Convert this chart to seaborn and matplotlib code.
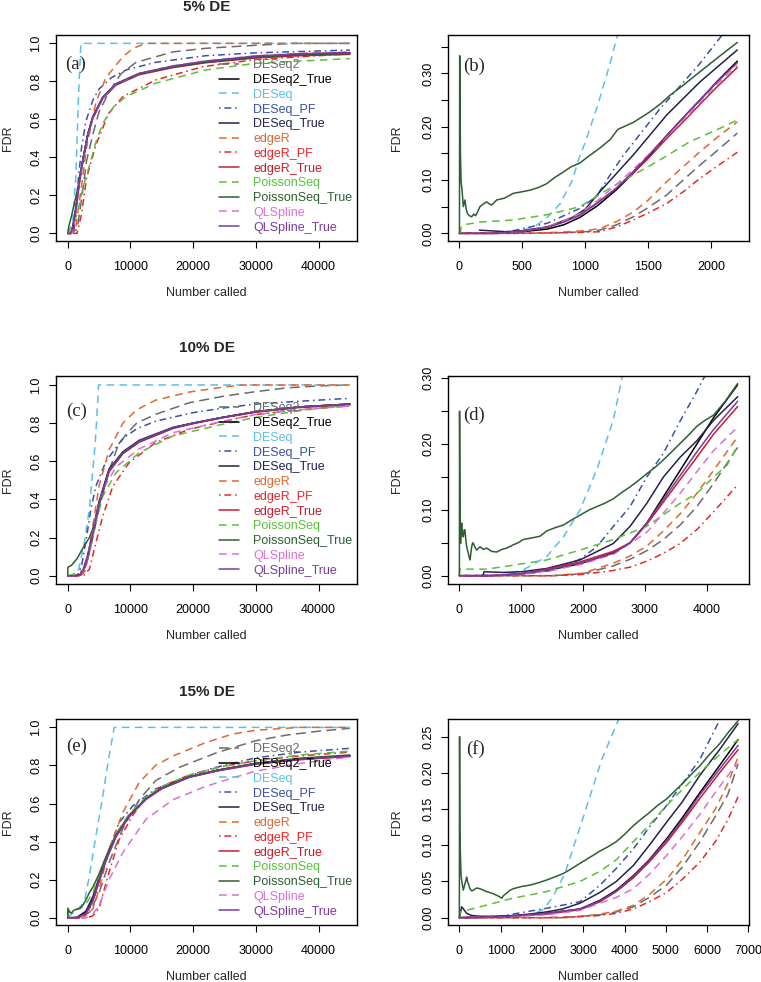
import numpy as np
import matplotlib
matplotlib.use("Agg")
import matplotlib.pyplot as plt
import seaborn as sns

sns.set_style("ticks")
plt.rcParams["font.family"] = ["Liberation Sans", "DejaVu Sans"]
plt.rcParams["axes.linewidth"] = 1.0
plt.rcParams["axes.edgecolor"] = "black"

# ---------------------------------------------------------------
# series, colours and line types
# ---------------------------------------------------------------
series_names = ["DESeq2", "DESeq2_True", "DESeq", "DESeq_PF", "DESeq_True",
                "edgeR", "edgeR_PF", "edgeR_True", "PoissonSeq",
                "PoissonSeq_True", "QLSpline", "QLSpline_True"]
series_colors = ["#6b6b6b", "#000000", "#5bbfea", "#3a4fa8", "#22224f",
                 "#e0692e", "#e8262a", "#cc1b2b", "#5bbf3a",
                 "#2e5e32", "#da70d6", "#7a3aa0"]
DASH = (0, (5, 3.5))
LONGDASH = (0, (6.5, 3.5))
DOTDASH = (0, (1, 2.5, 4.5, 2.5))
series_styles = [LONGDASH, "-", DASH, DOTDASH, "-", DASH, DOTDASH, "-",
                 DASH, "-", DASH, "-"]

# ---------------------------------------------------------------
# FDR curves: (number called, FDR)
# ---------------------------------------------------------------
fdr_5_full = {
    "DESeq2": [(0, 0), (1500, 0.02), (2300, 0.2), (3000, 0.38), (4000, 0.52), (5000, 0.64), (6600, 0.745), (8500, 0.84), (10900, 0.9), (16750, 0.955), (22000, 0.974), (30000, 0.99), (36000, 1.0), (45000, 1.0)],
    "DESeq2_True": [(0, 0), (500, 0.0), (790, 0.026), (1320, 0.13), (1850, 0.27), (2380, 0.377), (3180, 0.517), (4000, 0.61), (5600, 0.715), (7700, 0.785), (11400, 0.84), (16700, 0.877), (22000, 0.903), (30000, 0.93), (37000, 0.942), (45000, 0.95)],
    "DESeq": [(0, 0), (800, 0.05), (1300, 0.3), (1700, 0.7), (2100, 1.0), (45000, 1.0)],
    "DESeq_PF": [(0, 0), (1000, 0.02), (1600, 0.25), (2200, 0.45), (2900, 0.59), (4000, 0.7), (5000, 0.76), (7000, 0.82), (9300, 0.86), (14000, 0.9), (22000, 0.935), (30000, 0.95), (45000, 0.965)],
    "DESeq_True": [(0, 0), (500, 0.0), (790, 0.03), (1320, 0.14), (1850, 0.28), (2380, 0.385), (3180, 0.52), (4000, 0.615), (5600, 0.718), (7700, 0.787), (11400, 0.841), (16700, 0.878), (22000, 0.904), (30000, 0.931), (37000, 0.943), (45000, 0.95)],
    "edgeR": [(0, 0), (1200, 0.01), (2000, 0.2), (3000, 0.45), (4500, 0.69), (6100, 0.82), (8800, 0.93), (10500, 0.975), (12500, 1.0), (45000, 1.0)],
    "edgeR_PF": [(0, 0), (1500, 0.0), (2200, 0.1), (3000, 0.29), (4500, 0.465), (6500, 0.63), (8800, 0.72), (14000, 0.807), (21500, 0.877), (30000, 0.915), (45000, 0.945)],
    "edgeR_True": [(0, 0), (600, 0.0), (900, 0.02), (1320, 0.12), (1850, 0.26), (2380, 0.37), (3180, 0.51), (4000, 0.605), (5600, 0.71), (7700, 0.78), (11400, 0.835), (16700, 0.872), (22000, 0.898), (30000, 0.923), (37000, 0.935), (45000, 0.942)],
    "PoissonSeq": [(0, 0), (500, 0.03), (1500, 0.1), (2500, 0.25), (3500, 0.36), (4500, 0.48), (5600, 0.58), (7300, 0.665), (9300, 0.72), (14000, 0.79), (22000, 0.86), (30000, 0.895), (45000, 0.92)],
    "PoissonSeq_True": [(0, 0), (200, 0.04), (600, 0.09), (1000, 0.15), (1500, 0.22), (2100, 0.33), (2380, 0.375), (3180, 0.515), (4000, 0.61), (5600, 0.714), (7700, 0.784), (11400, 0.838), (16700, 0.875), (22000, 0.9), (30000, 0.927), (37000, 0.94), (45000, 0.946)],
    "QLSpline": [(0, 0), (600, 0.0), (900, 0.02), (1320, 0.12), (1850, 0.26), (2380, 0.37), (3180, 0.51), (4000, 0.607), (5600, 0.713), (7700, 0.785), (11400, 0.842), (16700, 0.882), (22000, 0.908), (30000, 0.935), (37000, 0.948), (45000, 0.955)],
    "QLSpline_True": [(0, 0), (500, 0.0), (790, 0.025), (1320, 0.13), (1850, 0.27), (2380, 0.378), (3180, 0.518), (4000, 0.612), (5600, 0.717), (7700, 0.787), (11400, 0.842), (16700, 0.88), (22000, 0.906), (30000, 0.933), (37000, 0.945), (45000, 0.952)],
}

fdr_5_top = {
    "DESeq2": [(0, 0), (500, 0.0), (800, 0.001), (1000, 0.003), (1118, 0.006), (1250, 0.016), (1383, 0.031), (1500, 0.048), (1649, 0.072), (1780, 0.1), (1913, 0.128), (2050, 0.155), (2210, 0.188)],
    "DESeq2_True": [(0, 0), (300, 0.0), (500, 0.003), (700, 0.008), (830, 0.016), (960, 0.03), (1100, 0.052), (1250, 0.082), (1383, 0.113), (1500, 0.143), (1649, 0.183), (1800, 0.222), (1913, 0.25), (2050, 0.285), (2210, 0.323)],
    "DESeq": [(0, 0), (400, 0.0), (500, 0.005), (600, 0.013), (700, 0.03), (800, 0.055), (900, 0.1), (950, 0.14), (1000, 0.17), (1100, 0.24), (1200, 0.32), (1300, 0.41)],
    "DESeq_PF": [(0, 0), (300, 0.0), (430, 0.005), (700, 0.019), (960, 0.047), (1090, 0.069), (1200, 0.11), (1300, 0.145), (1400, 0.175), (1500, 0.205), (1600, 0.235), (1750, 0.275), (1900, 0.315), (2000, 0.345), (2090, 0.372), (2150, 0.39)],
    "DESeq_True": [(160, 0.006), (370, 0.003), (500, 0.005), (700, 0.012), (900, 0.03), (1000, 0.045), (1118, 0.078), (1383, 0.147), (1649, 0.222), (1913, 0.284), (2210, 0.344)],
    "edgeR": [(0, 0), (500, 0.0), (800, 0.002), (1000, 0.005), (1118, 0.009), (1250, 0.022), (1383, 0.04), (1500, 0.062), (1649, 0.097), (1780, 0.125), (1913, 0.153), (2050, 0.18), (2210, 0.209)],
    "edgeR_PF": [(0, 0), (500, 0.0), (800, 0.001), (1000, 0.002), (1118, 0.003), (1250, 0.012), (1383, 0.025), (1500, 0.038), (1649, 0.056), (1780, 0.078), (1913, 0.103), (2050, 0.126), (2210, 0.152)],
    "edgeR_True": [(0, 0), (300, 0.0), (500, 0.004), (700, 0.012), (830, 0.022), (960, 0.035), (1100, 0.058), (1250, 0.085), (1383, 0.113), (1500, 0.14), (1649, 0.178), (1800, 0.214), (1913, 0.242), (2050, 0.275), (2210, 0.311)],
    "PoissonSeq": [(1, 0.0), (8, 0.0), (15, 0.012), (60, 0.017), (160, 0.021), (430, 0.025), (700, 0.035), (960, 0.05), (1171, 0.081), (1357, 0.106), (1569, 0.134), (1834, 0.172), (2046, 0.194), (2210, 0.2125)],
    "PoissonSeq_True": [(1, 0.0), (3, 0.333), (9, 0.15), (14, 0.097), (22, 0.08), (32, 0.05), (45, 0.0625), (55, 0.045), (64, 0.0375), (80, 0.033), (98, 0.031), (115, 0.036), (130, 0.033), (145, 0.04), (164, 0.05), (190, 0.055), (217, 0.059), (240, 0.055), (257, 0.053), (297, 0.0625), (360, 0.066), (429, 0.075), (500, 0.078), (562, 0.081), (630, 0.086), (694, 0.093), (760, 0.105), (827, 0.115), (890, 0.125), (959, 0.132), (1030, 0.145), (1118, 0.16), (1200, 0.176), (1260, 0.195), (1383, 0.208), (1516, 0.228), (1600, 0.243), (1675, 0.259), (1781, 0.278), (1913, 0.303), (2046, 0.328), (2210, 0.358)],
    "QLSpline": [(0, 0), (300, 0.0), (500, 0.004), (700, 0.012), (830, 0.023), (960, 0.037), (1100, 0.062), (1250, 0.092), (1383, 0.12), (1500, 0.146), (1649, 0.182), (1800, 0.218), (1913, 0.245), (2050, 0.28), (2210, 0.315)],
    "QLSpline_True": [(0, 0), (300, 0.0), (500, 0.004), (700, 0.011), (830, 0.021), (960, 0.034), (1100, 0.057), (1250, 0.085), (1383, 0.116), (1500, 0.145), (1649, 0.184), (1800, 0.222), (1913, 0.25), (2050, 0.284), (2210, 0.32)],
}

fdr_10_full = {
    "DESeq2": [(0, 0), (2000, 0.0), (3000, 0.06), (4000, 0.2), (5000, 0.35), (6500, 0.54), (8000, 0.68), (9300, 0.741), (11000, 0.8), (14000, 0.846), (19400, 0.907), (25000, 0.942), (30000, 0.965), (35000, 0.985), (40000, 0.995), (45000, 1.0)],
    "DESeq2_True": [(0, 0), (1000, 0.0), (2000, 0.005), (2500, 0.03), (3200, 0.1), (4000, 0.225), (5000, 0.38), (6600, 0.555), (8800, 0.645), (11400, 0.706), (16800, 0.776), (20000, 0.8), (24700, 0.83), (30000, 0.86), (37000, 0.885), (45000, 0.9)],
    "DESeq": [(0, 0), (1000, 0.0), (1750, 0.034), (2650, 0.173), (3450, 0.348), (4400, 0.698), (4940, 1.0), (45000, 1.0)],
    "DESeq_PF": [(0, 0), (1500, 0.0), (2200, 0.05), (3000, 0.2), (3700, 0.35), (4500, 0.47), (6100, 0.6), (8800, 0.72), (11000, 0.77), (14000, 0.81), (20000, 0.855), (25000, 0.88), (30000, 0.9), (37000, 0.915), (45000, 0.93)],
    "DESeq_True": [(0, 0), (1000, 0.0), (2000, 0.008), (2500, 0.035), (3200, 0.11), (4000, 0.235), (5000, 0.39), (6600, 0.56), (8800, 0.65), (11400, 0.71), (16800, 0.778), (20000, 0.8), (24700, 0.83), (30000, 0.86), (37000, 0.885), (45000, 0.9)],
    "edgeR": [(0, 0), (2000, 0.0), (2700, 0.02), (3200, 0.086), (4000, 0.26), (5000, 0.47), (6600, 0.66), (8800, 0.8), (11000, 0.87), (14000, 0.92), (19400, 0.963), (25000, 0.99), (28000, 1.0), (45000, 1.0)],
    "edgeR_PF": [(0, 0), (2500, 0.0), (3450, 0.034), (4500, 0.173), (5600, 0.313), (7200, 0.47), (9800, 0.593), (14000, 0.698), (19400, 0.768), (25000, 0.81), (30000, 0.845), (37000, 0.87), (45000, 0.89)],
    "edgeR_True": [(0, 0), (1000, 0.0), (2000, 0.004), (2500, 0.025), (3200, 0.09), (4000, 0.215), (5000, 0.37), (6600, 0.545), (8800, 0.64), (11400, 0.7), (16800, 0.772), (20000, 0.797), (24700, 0.828), (30000, 0.857), (37000, 0.882), (45000, 0.895)],
    "PoissonSeq": [(0, 0), (1000, 0.01), (2500, 0.03), (3500, 0.12), (4500, 0.28), (5600, 0.418), (7700, 0.54), (11400, 0.645), (16800, 0.733), (24700, 0.794), (30000, 0.83), (37000, 0.865), (45000, 0.895)],
    "PoissonSeq_True": [(1, 0.0), (30, 0.045), (600, 0.055), (1500, 0.09), (2500, 0.15), (3450, 0.2), (4000, 0.245), (5000, 0.375), (6600, 0.552), (8800, 0.643), (11400, 0.704), (16800, 0.775), (20000, 0.8), (24700, 0.83), (30000, 0.86), (37000, 0.885), (45000, 0.9)],
    "QLSpline": [(0, 0), (1500, 0.0), (2500, 0.02), (3500, 0.15), (4500, 0.31), (5600, 0.45), (7700, 0.57), (11400, 0.665), (16800, 0.75), (24700, 0.81), (30000, 0.845), (37000, 0.87), (45000, 0.89)],
    "QLSpline_True": [(0, 0), (1000, 0.0), (2000, 0.005), (2500, 0.03), (3200, 0.1), (4000, 0.22), (5000, 0.375), (6600, 0.553), (8800, 0.645), (11400, 0.706), (16800, 0.776), (20000, 0.8), (24700, 0.83), (30000, 0.86), (37000, 0.885), (45000, 0.9)],
}

fdr_10_top = {
    "DESeq2": [(0, 0), (1500, 0.0), (2000, 0.003), (2491, 0.015), (2761, 0.025), (3031, 0.038), (3300, 0.055), (3570, 0.077), (3840, 0.105), (4110, 0.14), (4500, 0.195)],
    "DESeq2_True": [(0, 0), (500, 0.0), (1000, 0.003), (1413, 0.008), (1952, 0.018), (2491, 0.035), (2761, 0.05), (3031, 0.08), (3300, 0.12), (3570, 0.16), (3840, 0.2), (4110, 0.24), (4500, 0.29)],
    "DESeq": [(0, 0), (600, 0.0), (800, 0.003), (1035, 0.009), (1413, 0.029), (1683, 0.059), (1952, 0.1), (2222, 0.161), (2491, 0.237), (2640, 0.305)],
    "DESeq_PF": [(0, 0), (1000, 0.002), (1500, 0.008), (1952, 0.025), (2222, 0.044), (2491, 0.075), (2761, 0.105), (3031, 0.15), (3300, 0.186), (3570, 0.235), (3840, 0.28), (3950, 0.3), (4050, 0.315)],
    "DESeq_True": [(380, 0.0), (400, 0.006), (700, 0.005), (1000, 0.006), (1413, 0.011), (1952, 0.024), (2491, 0.049), (2761, 0.075), (3031, 0.11), (3300, 0.15), (3570, 0.18), (3840, 0.205), (4110, 0.236), (4500, 0.272)],
    "edgeR": [(0, 0), (1500, 0.0), (2000, 0.004), (2491, 0.019), (2761, 0.03), (3031, 0.045), (3300, 0.068), (3570, 0.094), (3840, 0.125), (4110, 0.16), (4500, 0.211)],
    "edgeR_PF": [(0, 0), (1500, 0.0), (2000, 0.002), (2491, 0.008), (2761, 0.013), (3031, 0.022), (3300, 0.034), (3570, 0.049), (3840, 0.07), (4110, 0.097), (4500, 0.138)],
    "edgeR_True": [(0, 0), (500, 0.0), (1000, 0.003), (1413, 0.01), (1952, 0.021), (2491, 0.037), (2761, 0.05), (3031, 0.078), (3300, 0.112), (3570, 0.146), (3840, 0.18), (4110, 0.215), (4500, 0.257)],
    "PoissonSeq": [(1, 0.0), (8, 0.01), (440, 0.01), (874, 0.016), (1413, 0.024), (1952, 0.039), (2491, 0.055), (3031, 0.075), (3570, 0.11), (3840, 0.125), (4110, 0.15), (4330, 0.168), (4500, 0.198)],
    "PoissonSeq_True": [(1, 0.0), (4, 0.25), (10, 0.12), (20, 0.049), (30, 0.07), (38, 0.08), (50, 0.065), (65, 0.059), (80, 0.07), (92, 0.069), (105, 0.055), (119, 0.044), (135, 0.038), (146, 0.034), (160, 0.028), (173, 0.024), (188, 0.035), (200, 0.044), (215, 0.05), (227, 0.049), (255, 0.043), (280, 0.039), (334, 0.044), (390, 0.04), (442, 0.042), (520, 0.037), (604, 0.036), (690, 0.04), (766, 0.042), (874, 0.047), (950, 0.05), (1035, 0.055), (1150, 0.057), (1305, 0.06), (1413, 0.068), (1550, 0.073), (1683, 0.077), (1820, 0.085), (1952, 0.092), (2100, 0.1), (2222, 0.105), (2350, 0.11), (2491, 0.117), (2620, 0.126), (2761, 0.135), (2900, 0.145), (3031, 0.155), (3170, 0.165), (3300, 0.176), (3430, 0.188), (3570, 0.201), (3700, 0.213), (3840, 0.227), (3970, 0.236), (4110, 0.244), (4300, 0.265), (4500, 0.292)],
    "QLSpline": [(0, 0), (1000, 0.002), (1500, 0.008), (2000, 0.018), (2500, 0.033), (3031, 0.066), (3300, 0.095), (3570, 0.125), (3840, 0.158), (4110, 0.19), (4500, 0.226)],
    "QLSpline_True": [(0, 0), (500, 0.0), (1000, 0.003), (1413, 0.009), (1952, 0.019), (2491, 0.034), (2761, 0.05), (3031, 0.08), (3300, 0.116), (3570, 0.152), (3840, 0.188), (4110, 0.222), (4500, 0.265)],
}

fdr_15_full = {
    "DESeq2": [(0, 0), (2000, 0.0), (3500, 0.03), (5000, 0.13), (6600, 0.29), (8800, 0.47), (11400, 0.62), (14000, 0.72), (17800, 0.79), (23600, 0.865), (27000, 0.9), (30000, 0.93), (35000, 0.96), (40000, 0.98), (45000, 0.995)],
    "DESeq2_True": [(0, 0), (1500, 0.0), (2900, 0.028), (4000, 0.098), (5000, 0.2), (6100, 0.305), (7700, 0.43), (9800, 0.535), (12500, 0.625), (15000, 0.68), (19400, 0.74), (24000, 0.775), (30000, 0.81), (37000, 0.835), (45000, 0.85)],
    "DESeq": [(0, 0), (1000, 0.03), (2000, 0.06), (2650, 0.081), (3450, 0.22), (4500, 0.43), (5600, 0.64), (6600, 0.85), (7430, 1.0), (45000, 1.0)],
    "DESeq_PF": [(0, 0), (2000, 0.0), (3500, 0.05), (4500, 0.133), (5600, 0.256), (6600, 0.36), (8200, 0.5), (10400, 0.588), (14000, 0.676), (19400, 0.746), (23600, 0.79), (30000, 0.84), (37000, 0.87), (45000, 0.89)],
    "DESeq_True": [(0, 0), (1500, 0.003), (2900, 0.035), (4000, 0.11), (5000, 0.21), (6100, 0.315), (7700, 0.435), (9800, 0.538), (12500, 0.627), (15000, 0.682), (19400, 0.741), (24000, 0.776), (30000, 0.81), (37000, 0.835), (45000, 0.85)],
    "edgeR": [(0, 0), (2500, 0.0), (4000, 0.045), (5000, 0.15), (6600, 0.36), (8800, 0.554), (11400, 0.71), (14000, 0.8), (16800, 0.85), (22000, 0.92), (26300, 0.965), (30000, 0.985), (37000, 1.0), (45000, 1.0)],
    "edgeR_PF": [(0, 0), (3000, 0.0), (4000, 0.01), (5000, 0.05), (6600, 0.24), (8200, 0.41), (10400, 0.54), (12500, 0.63), (15000, 0.69), (19400, 0.75), (24000, 0.79), (30000, 0.825), (37000, 0.85), (45000, 0.87)],
    "edgeR_True": [(0, 0), (1500, 0.0), (2900, 0.02), (4000, 0.085), (5000, 0.19), (6100, 0.3), (7700, 0.425), (9800, 0.532), (12500, 0.622), (15000, 0.678), (19400, 0.738), (24000, 0.772), (30000, 0.806), (37000, 0.83), (45000, 0.848)],
    "PoissonSeq": [(0, 0), (200, 0.03), (1000, 0.04), (2000, 0.05), (2900, 0.072), (4000, 0.13), (5000, 0.22), (6100, 0.32), (7700, 0.44), (9800, 0.545), (12500, 0.635), (15000, 0.69), (19400, 0.75), (24000, 0.79), (30000, 0.825), (37000, 0.855), (45000, 0.875)],
    "PoissonSeq_True": [(1, 0.0), (30, 0.05), (300, 0.03), (600, 0.025), (1000, 0.04), (1500, 0.045), (2000, 0.05), (2500, 0.07), (3000, 0.1), (3500, 0.135), (4000, 0.16), (5000, 0.23), (6100, 0.32), (7700, 0.435), (9800, 0.537), (12500, 0.626), (15000, 0.681), (19400, 0.741), (24000, 0.776), (30000, 0.812), (37000, 0.838), (45000, 0.855)],
    "QLSpline": [(0, 0), (3000, 0.0), (4000, 0.02), (5000, 0.063), (6600, 0.2), (8800, 0.343), (12500, 0.518), (16800, 0.62), (22000, 0.69), (26300, 0.735), (30000, 0.77), (37000, 0.81), (45000, 0.845)],
    "QLSpline_True": [(0, 0), (1500, 0.0), (2900, 0.022), (4000, 0.09), (5000, 0.195), (6100, 0.3), (7700, 0.428), (9800, 0.533), (12500, 0.623), (15000, 0.678), (19400, 0.738), (24000, 0.773), (30000, 0.808), (37000, 0.832), (45000, 0.848)],
}

fdr_15_top = {
    "DESeq2": [(0, 0), (2500, 0.0), (3407, 0.004), (3800, 0.008), (4213, 0.015), (4600, 0.028), (5020, 0.045), (5400, 0.07), (5828, 0.105), (6200, 0.14), (6500, 0.17), (6750, 0.212)],
    "DESeq2_True": [(0, 0), (1000, 0.001), (2114, 0.006), (2921, 0.012), (3407, 0.024), (3800, 0.038), (4213, 0.058), (4600, 0.08), (5020, 0.109), (5400, 0.138), (5828, 0.173), (6300, 0.21), (6750, 0.246)],
    "DESeq": [(0, 0), (1000, 0.0), (1500, 0.002), (1800, 0.005), (2050, 0.012), (2276, 0.03), (2550, 0.06), (3002, 0.139), (3446, 0.218), (3850, 0.273), (3950, 0.29)],
    "DESeq_PF": [(0, 0), (1000, 0.002), (2114, 0.013), (2921, 0.022), (3407, 0.045), (3800, 0.068), (4213, 0.095), (4600, 0.125), (5020, 0.155), (5400, 0.185), (5828, 0.219), (6312, 0.274), (6400, 0.285)],
    "DESeq_True": [(1, 0.0), (56, 0.015), (100, 0.012), (177, 0.006), (300, 0.003), (500, 0.002), (800, 0.002), (1307, 0.003), (1700, 0.005), (2114, 0.008), (2500, 0.012), (2921, 0.02), (3407, 0.035), (3800, 0.05), (4213, 0.072), (4600, 0.1), (5020, 0.132), (5400, 0.16), (5828, 0.197), (6300, 0.232), (6750, 0.268)],
    "edgeR": [(0, 0), (2000, 0.0), (3000, 0.002), (3407, 0.005), (3800, 0.009), (4213, 0.017), (4600, 0.032), (5020, 0.053), (5400, 0.08), (5828, 0.118), (6200, 0.15), (6500, 0.185), (6750, 0.222)],
    "edgeR_PF": [(0, 0), (2500, 0.0), (3407, 0.003), (3800, 0.006), (4213, 0.012), (4600, 0.022), (5020, 0.035), (5400, 0.053), (5828, 0.077), (6200, 0.105), (6500, 0.135), (6750, 0.167)],
    "edgeR_True": [(0, 0), (1000, 0.001), (2114, 0.005), (2921, 0.011), (3407, 0.022), (3800, 0.036), (4213, 0.055), (4600, 0.077), (5020, 0.104), (5400, 0.132), (5828, 0.165), (6300, 0.2), (6750, 0.232)],
    "PoissonSeq": [(1, 0.0), (20, 0.008), (500, 0.015), (1307, 0.027), (2114, 0.036), (2921, 0.05), (3407, 0.064), (3800, 0.08), (4213, 0.105), (4600, 0.128), (5020, 0.155), (5400, 0.177), (5828, 0.201), (6300, 0.225), (6750, 0.246)],
    "PoissonSeq_True": [(1, 0.0), (6, 0.25), (14, 0.12), (24, 0.094), (40, 0.06), (56, 0.052), (75, 0.045), (97, 0.038), (120, 0.043), (137, 0.047), (160, 0.052), (177, 0.056), (200, 0.05), (218, 0.047), (240, 0.043), (258, 0.04), (300, 0.037), (339, 0.038), (420, 0.041), (500, 0.04), (580, 0.038), (662, 0.036), (780, 0.034), (904, 0.031), (970, 0.029), (1025, 0.027), (1080, 0.031), (1146, 0.034), (1230, 0.038), (1307, 0.04), (1500, 0.043), (1710, 0.045), (1900, 0.048), (2114, 0.052), (2300, 0.056), (2517, 0.061), (2700, 0.067), (2921, 0.075), (3150, 0.083), (3407, 0.092), (3600, 0.098), (3800, 0.105), (4000, 0.115), (4213, 0.127), (4400, 0.136), (4600, 0.145), (4800, 0.155), (5020, 0.164), (5200, 0.174), (5400, 0.185), (5600, 0.197), (5828, 0.21), (6050, 0.225), (6300, 0.24), (6500, 0.255), (6750, 0.272)],
    "QLSpline": [(0, 0), (1000, 0.001), (2114, 0.004), (2921, 0.01), (3407, 0.02), (3800, 0.028), (4213, 0.04), (4600, 0.06), (5020, 0.086), (5400, 0.112), (5828, 0.143), (6200, 0.173), (6615, 0.205), (6750, 0.213)],
    "QLSpline_True": [(0, 0), (1000, 0.001), (2114, 0.006), (2921, 0.012), (3407, 0.023), (3800, 0.037), (4213, 0.057), (4600, 0.079), (5020, 0.107), (5400, 0.135), (5828, 0.17), (6300, 0.205), (6750, 0.238)],
}

# axis ticks and labels
full_xticks = [0, 10000, 20000, 30000, 40000]
full_yticks = [0.0, 0.2, 0.4, 0.6, 0.8, 1.0]
full_ylabels = ["0.0", "0.2", "0.4", "0.6", "0.8", "1.0"]
top5_xticks = [0, 500, 1000, 1500, 2000]
top5_yticks = [0.0, 0.05, 0.10, 0.15, 0.20, 0.25, 0.30, 0.35]
top5_ylabels = ["0.00", "", "0.10", "", "0.20", "", "0.30", ""]
top10_xticks = [0, 1000, 2000, 3000, 4000]
top10_yticks = [0.0, 0.05, 0.10, 0.15, 0.20, 0.25, 0.30]
top10_ylabels = ["0.00", "", "0.10", "", "0.20", "", "0.30"]
top15_xticks = [0, 1000, 2000, 3000, 4000, 5000, 6000, 7000]
top15_yticks = [0.0, 0.05, 0.10, 0.15, 0.20, 0.25]
top15_ylabels = ["0.00", "0.05", "0.10", "0.15", "0.20", "0.25"]

titles = ["5% DE", "10% DE", "15% DE"]
letters = ["(a)", "(b)", "(c)", "(d)", "(e)", "(f)"]

FS = 9.0

# ---------------------------------------------------------------
# layout (pixel boxes of the 6 panels)
# ---------------------------------------------------------------
W, H = 761, 982
fig = plt.figure(figsize=(W / 100, H / 100), dpi=100)


def add_px_axes(left, top, right, bottom):
    return fig.add_axes([left / W, 1 - bottom / H, (right - left) / W, (bottom - top) / H])


panels = [
    (fdr_5_full, (56, 35, 357, 241), (-1866, 46140), (-0.040, 1.044), full_xticks, full_yticks, full_ylabels, (0.031, 0.859), True),
    (fdr_5_top, (448, 35, 749, 241), (-90, 2303), (-0.0144, 0.372), top5_xticks, top5_yticks, top5_ylabels, (0.049, 0.846), False),
    (fdr_10_full, (56, 376, 357, 584), (-1866, 46140), (-0.043, 1.047), full_xticks, full_yticks, full_ylabels, (0.033, 0.832), True),
    (fdr_10_top, (448, 376, 749, 584), (-183, 4684), (-0.0126, 0.3035), top10_xticks, top10_yticks, top10_ylabels, (0.049, 0.8125), False),
    (fdr_15_full, (56, 719, 357, 925), (-1866, 46140), (-0.038, 1.044), full_xticks, full_yticks, full_ylabels, (0.033, 0.866), True),
    (fdr_15_top, (448, 719, 749, 925), (-274, 7014), (-0.0101, 0.2744), top15_xticks, top15_yticks, top15_ylabels, (0.06, 0.853), False),
]

for i, (data, box, xlim, ylim, xt, yt, ytl, letter_pos, with_legend) in enumerate(panels):
    ax = add_px_axes(*box)
    for name, color, ls in zip(series_names, series_colors, series_styles):
        pts = np.array(data[name], dtype=float)
        sns.lineplot(x=pts[:, 0], y=pts[:, 1], ax=ax, color=color, linestyle=ls,
                     linewidth=1.1, estimator=None, sort=False,
                     label=name if with_legend else None)
    ax.set_xlim(*xlim)
    ax.set_ylim(*ylim)
    ax.set_xticks(xt)
    ax.set_xticklabels([str(v) for v in xt])
    ax.set_yticks(yt)
    ax.set_yticklabels(ytl, rotation=90, va="center")
    ax.tick_params(axis="both", direction="out", length=5, width=0.8,
                   labelsize=FS, colors="black")
    ax.tick_params(axis="x", pad=9.5)
    ax.tick_params(axis="y", pad=5)
    for s in ax.spines.values():
        s.set_visible(True)
        s.set_linewidth(1.0)
    ax.text(letter_pos[0], letter_pos[1], letters[i], transform=ax.transAxes,
            ha="left", va="center", fontsize=13.5, family=["Liberation Serif", "DejaVu Serif"])
    if with_legend:
        leg = ax.legend(loc="lower left", bbox_to_anchor=(0.5425, 0.036),
                        frameon=False, fontsize=FS, handlelength=1.55,
                        handletextpad=1.15, labelspacing=0.22, borderpad=0,
                        borderaxespad=0)
        for txt, line in zip(leg.get_texts(), leg.get_lines()):
            txt.set_color(line.get_color())
    elif ax.get_legend() is not None:
        ax.get_legend().remove()

    # axis titles placed like the R layout
    cx = (box[0] + box[2]) / 2
    cy = (box[1] + box[3]) / 2
    fig.text(cx / W, 1 - (box[3] + 52) / H, "Number called", ha="center", va="center", fontsize=FS)
    fdr_x = 8 if box[0] < 200 else 397
    fig.text(fdr_x / W, 1 - cy / H, "FDR", ha="center", va="center", rotation=90, fontsize=FS)

for title, y in zip(titles, [7, 348, 692]):
    fig.text(206.5 / W, 1 - y / H, title, ha="center", va="center", fontsize=11, weight="bold")

fig.savefig("out.png", dpi=100)
